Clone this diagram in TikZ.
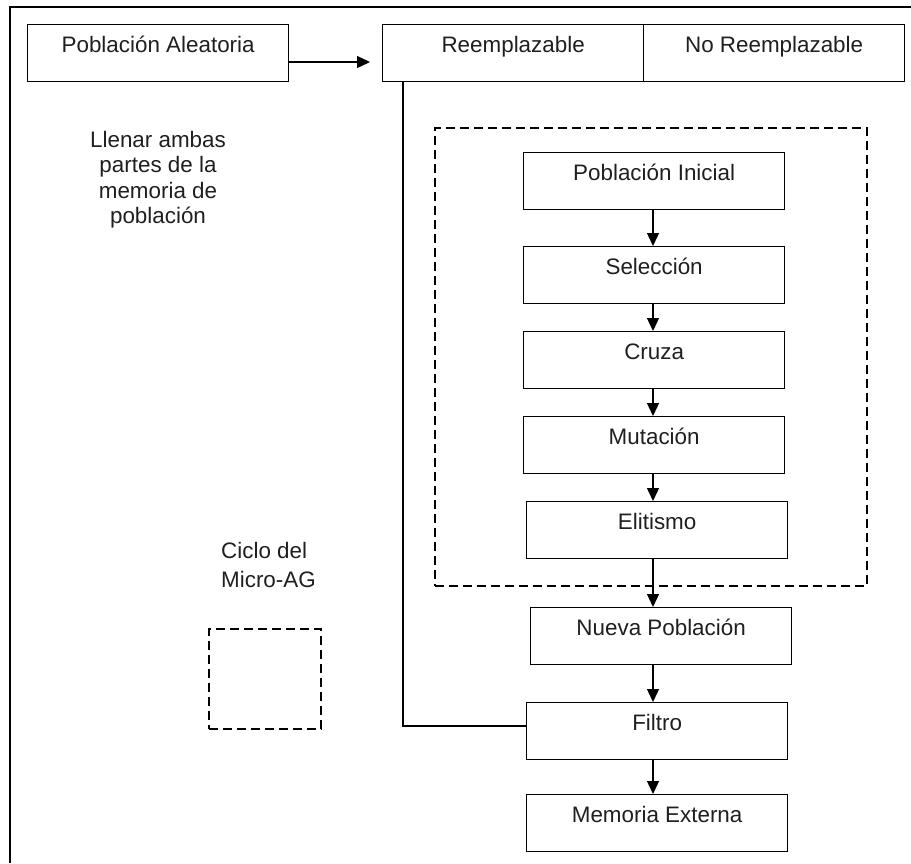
\documentclass[tikz,border=0pt]{standalone}
\usepackage{fontspec}
\setmainfont{Liberation Sans}
\usetikzlibrary{arrows.meta}
\begin{document}
\begin{tikzpicture}[x=1pt,y=-1pt,
  every node/.style={font=\fontsize{22.4}{25}\selectfont, text=black!88},
  blk/.style={draw, line width=1.3pt, minimum width=261pt, inner xsep=0pt, inner ysep=0pt,
              text height=28pt, text depth=29pt, anchor=north west},
  arr/.style={line width=1.3pt, -{Triangle[width=12pt,length=13pt]}},
  dashbox/.style={draw, line width=1.5pt, dash pattern=on 9pt off 5pt},
  frame/.style={line width=1.8pt}]
\useasboundingbox (0,0) rectangle (911,863);
% frame
\coordinate (fbl) at (10,863);
\coordinate (ftl) at (10,7);
\coordinate (ftr) at (911,7);
\draw[frame] (fbl) -- (ftl) -- (ftr);
% top row
\node[blk] (pa) at (27,24) {Población Aleatoria};
\node[blk] (rem) at (382,24) {Reemplazable\hspace{12pt}};
\node[blk] (norem) at (643,24) {No Reemplazable\hspace{18pt}};
\coordinate (atip) at (370,62);
\draw[arr] (pa.east |- atip) -- (atip);
% notes
\node[align=center, inner sep=0pt, anchor=north, font=\fontsize{22.4}{25.5}\selectfont] (note) at (158,131)
  {Llenar ambas\\partes de la\\memoria de\\población};
\node[align=left, inner sep=0pt, anchor=north west, font=\fontsize{22.4}{29}\selectfont] (ciclo) at (221,542)
  {Ciclo del\\Micro-AG};
% legend dashed box
\node[dashbox, minimum width=112pt, minimum height=100pt, inner sep=0pt, anchor=north west] (leg) at (208,628) {};
% big dashed box
\node[dashbox, minimum width=432pt, minimum height=458pt, inner sep=0pt, anchor=north west] (cyc) at (434,127) {};
% flow
\node[blk] (pi) at (523,152) {Población Inicial};
\node[blk] (sel) at (523,246) {Selección};
\node[blk] (cru) at (523,331) {Cruza};
\node[blk] (mut) at (523,416) {Mutación};
\node[blk] (eli) at (526,501) {Elitismo};
\node[blk] (nue) at (530,607) {Nueva Población};
\node[blk] (fil) at (526,702) {Filtro};
\node[blk] (mem) at (526,794) {Memoria Externa};
\coordinate (ax) at (653,0);
\draw[arr] (ax |- pi.south) -- (ax |- sel.north);
\draw[arr] (ax |- sel.south) -- (ax |- cru.north);
\draw[arr] (ax |- cru.south) -- (ax |- mut.north);
\draw[arr] (ax |- mut.south) -- (ax |- eli.north);
\draw[arr] (ax |- eli.south) -- (ax |- nue.north);
\draw[arr] (ax |- nue.south) -- (ax |- fil.north);
\draw[arr] (ax |- fil.south) -- (ax |- mem.north);
% return line
\coordinate (lx) at (403,0);
\coordinate (ly) at (0,726);
\draw[line width=1.3pt] (lx |- rem.south) -- (lx |- ly) -- (fil.west |- ly);
\end{tikzpicture}
\end{document}
